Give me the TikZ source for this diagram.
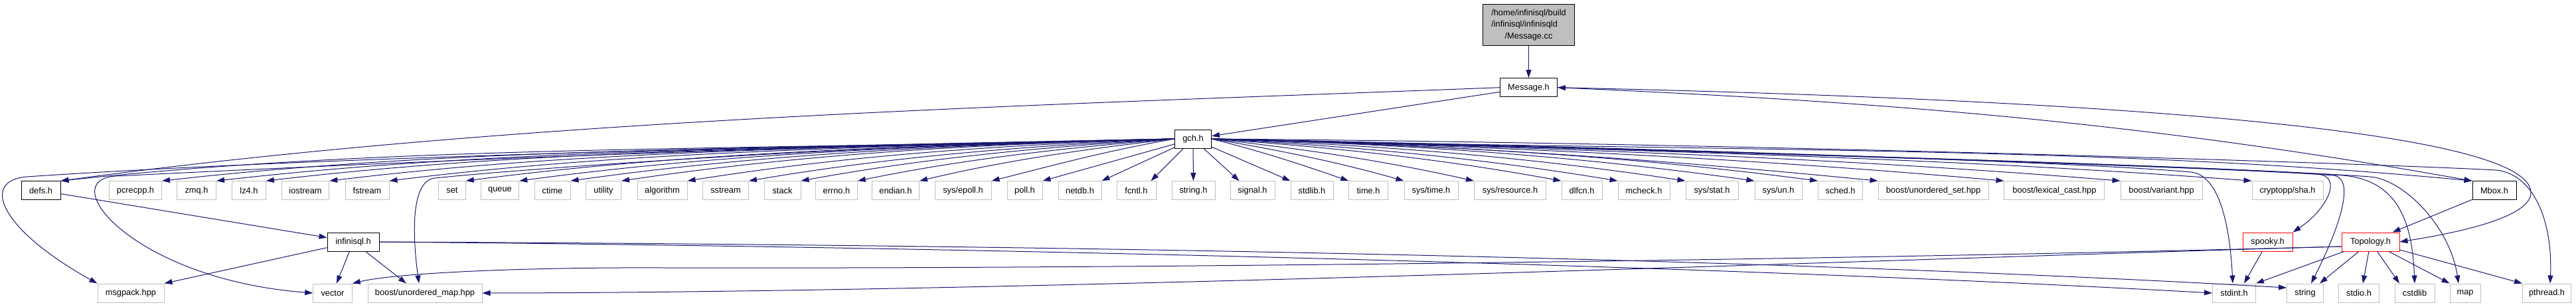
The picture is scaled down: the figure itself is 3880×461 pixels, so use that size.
\documentclass[tikz,border=0pt]{standalone}
\usepackage{fontspec}
\setmainfont{Liberation Sans}
\usetikzlibrary{arrows.meta,calc}
\definecolor{edgeblue}{HTML}{191970}
\definecolor{greyline}{HTML}{BFBFBF}
\definecolor{rootfill}{HTML}{BFBFBF}
\begin{document}
\begin{tikzpicture}[x=1pt,y=-1pt,
  incl/.style={rectangle, draw=greyline, fill=white, line width=1pt, minimum height=28pt,
    inner sep=0pt, minimum width=#1, font=\fontsize{12.8}{15.4}\selectfont},
  docbox/.style={incl=#1, draw=black},
  redbox/.style={incl=#1, draw=red},
  edge/.style={draw=edgeblue, line width=1pt, -{Triangle[length=12pt,width=8pt]}},
  edgeboth/.style={draw=edgeblue, line width=1pt, {Triangle[length=12pt,width=8pt]}-{Triangle[length=12pt,width=8pt]}},
]
\useasboundingbox (0,0) rectangle (3880,461);

% top
\node[docbox=138, minimum height=62pt, fill=rootfill, font=\fontsize{12.8}{17.5}\selectfont] (msgcc) at (2302.5,37)
  {\begin{tabular}{@{}l@{}}/home/infinisql/build\\/infinisql/infinisqld\\\multicolumn{1}{@{}c@{}}{/Message.cc}\end{tabular}};
\node[docbox=86] (msgh) at (2302.5,131.7) {Message.h};
\node[docbox=55] (gch) at (1797,209) {gch.h};

% row 1
\def\ra{286.7}
\node[docbox=59] (defs) at (61.5,\ra) {defs.h};
\node[incl=79] (pcrecpp) at (204,\ra) {pcrecpp.h};
\node[incl=59] (zmq) at (296,\ra) {zmq.h};
\node[incl=50.5] (lz4) at (375,\ra) {lz4.h};
\node[incl=71.5] (iostream) at (460,\ra) {iostream};
\node[incl=66] (fstream) at (553,\ra) {fstream};
\node[incl=40.5] (set) at (681,\ra) {set};
\node[incl=57.5] (queue) at (753,\ra) {queue};
\node[incl=54] (ctime) at (832,\ra) {ctime};
\node[incl=53] (utility) at (909,\ra) {utility};
\node[incl=75] (algorithm) at (997.5,\ra) {algorithm};
\node[incl=69] (sstream) at (1093,\ra) {sstream};
\node[incl=55] (stack) at (1178.5,\ra) {stack};
\node[incl=62.5] (errno) at (1260,\ra) {errno.h};
\node[incl=71] (endian) at (1349,\ra) {endian.h};
\node[incl=85] (epoll) at (1450.5,\ra) {sys/epoll.h};
\node[incl=53] (poll) at (1543.5,\ra) {poll.h};
\node[incl=65] (netdb) at (1626.5,\ra) {netdb.h};
\node[incl=59] (fcntl) at (1711.5,\ra) {fcntl.h};
\node[incl=65] (stringh) at (1797.5,\ra) {string.h};
\node[incl=67] (signal) at (1886.5,\ra) {signal.h};
\node[incl=64] (stdlib) at (1976,\ra) {stdlib.h};
\node[incl=58.5] (timeh) at (2061,\ra) {time.h};
\node[incl=81] (systime) at (2155.5,\ra) {sys/time.h};
\node[incl=108] (resource) at (2274.5,\ra) {sys/resource.h};
\node[incl=61] (dlfcn) at (2382.5,\ra) {dlfcn.h};
\node[incl=78] (mcheck) at (2476,\ra) {mcheck.h};
\node[incl=79] (stat) at (2578.5,\ra) {sys/stat.h};
\node[incl=71] (un) at (2678.5,\ra) {sys/un.h};
\node[incl=67] (sched) at (2772,\ra) {sched.h};
\node[incl=166] (uset) at (2912,\ra) {boost/unordered\_set.hpp};
\node[incl=151] (lexical) at (3094.4,\ra) {boost/lexical\_cast.hpp};
\node[incl=123] (variant) at (3255.5,\ra) {boost/variant.hpp};
\node[incl=107] (sha) at (3445.5,\ra) {cryptopp/sha.h};
\node[docbox=66] (mbox) at (3757,\ra) {Mbox.h};

% row 2
\node[docbox=78] (infinisql) at (532,364) {infinisql.h};
\node[redbox=75] (spooky) at (3415.5,364) {spooky.h};
\node[redbox=87] (topology) at (3570.5,364) {Topology.h};

% row 3
\def\rc{441}
\node[incl=100] (msgpack) at (197,\rc) {msgpack.hpp};
\node[incl=58.6] (vector) at (501,\rc) {vector};
\node[incl=172] (umap) at (640,\rc) {boost/unordered\_map.hpp};
\node[incl=65] (stdint) at (3365,\rc) {stdint.h};
\node[incl=55] (string) at (3472,\rc) {string};
\node[incl=61] (stdio) at (3553,\rc) {stdio.h};
\node[incl=60] (cstdlib) at (3637,\rc) {cstdlib};
\node[incl=46] (map) at (3713,\rc) {map};
\node[incl=73] (pthread) at (3836,\rc) {pthread.h};

% edges from the root and Message.h
\draw[edge] (msgcc) -- (msgh);
\draw[edge] (msgh) -- (gch);
\draw[edge] (msgh.west) .. controls +(-700,27) and +(694,-94) .. (defs.north east);
\draw[edgeboth] (msgh.east) .. controls +(500,22) and +(-494,-88) .. (mbox.north west);
\draw[edge] (msgh.east) .. controls (2946,145) and (3812,180) .. (3812,290)
   .. controls (3812,330) and (3684,353) .. (topology.east);

% gch.h fan to the left
\foreach \t/\a/\c/\b/\d in {defs/671/17.6/503.5/54, pcrecpp/610/16/458/51.4,
  zmq/578/15.1/433/49.3, lz4/548/14.3/410.7/48.3, iostream/510/13.3/382/46.2,
  fstream/473/12.4/355/44.2, set/427/11.2/320/41.6, queue/395/10.3/296/40,
  ctime/364/9.5/273/38.4, utility/334/8.7/250/37, algorithm/294/10/220/34.9,
  sstream/257/12/192.6/32.9, stack/225/13.6/169/31, errno/191/15.4/143.4/29.4,
  endian/154/17.3/115.5/27.5, epoll/110.6/19.5/83/20.7}
  \draw[edge] (gch.west) .. controls +(-\a,\c) and +(\b,-\d) .. (\t.north east);

% gch.h fan to the right
\foreach \t/\a/\c/\b/\d in {timeh/83/20.8/62/21.4, systime/116/19.2/87/24.8,
  resource/158/16.9/119/26.6, dlfcn/211/14.4/158/29, mcheck/245/12.4/184/30.4,
  stat/286/10.5/214/32.4, un/327/8.6/245.5/34.3, sched/366/9.6/274/36.1,
  uset/402/10.5/301/29.5, lexical/478/12.5/358/31.7, variant/548/14.4/411/33.8,
  sha/627/16.4/470/35.4, mbox/760/19.9/570/54}
  \draw[edge] (gch.east) .. controls +(\a,\c) and +(-\b,-\d) .. (\t.north west);

% gch.h straight edges
\draw[edge] (gch) -- (poll.north east);
\draw[edge] (gch) -- (netdb.north east);
\draw[edge] (gch) -- ($(fcntl.north east)+(-8,0)$);
\draw[edge] (gch) -- (stringh);
\draw[edge] (gch) -- ($(signal.north west)+(14,0)$);
\draw[edge] (gch) -- (stdlib.north west);

% gch.h long edges to the bottom row
\draw[edge] (gch.west) .. controls (1069.5,222) and (440,239) .. (40,266)
   .. controls (-30,272) and (0,345) .. (msgpack.north west);
\draw[edge] (gch.west) .. controls (1100,222) and (575,245) .. (175,265)
   .. controls (80,270) and (200,420) .. (vector.west);
\draw[edge] (gch.west) .. controls (1300,217) and (800,253) .. (655,268)
   .. controls (617,272) and (622,360) .. ($(umap.north)+(-9,0)$);
\draw[edge] (gch.east) .. controls (2500,222) and (3150,245) .. (3300,259)
   .. controls (3340,263) and (3358,330) .. ($(stdint.north)+(-2,0)$);
\draw[edge] (gch.east) .. controls (2400,222) and (3300,248) .. (3490,262)
   .. controls (3530,265) and (3505,315) .. (spooky.north east);
\draw[edge] (gch.east) .. controls (2400,222) and (3330,250) .. (3515,264)
   .. controls (3545,268) and (3530,330) .. ($(string.north)+(9,0)$);
\draw[edge] (gch.east) .. controls (2400,222) and (3350,250) .. (3530,264)
   .. controls (3610,272) and (3633,330) .. (cstdlib.north);
\draw[edge] (gch.east) .. controls (2400,222) and (3380,252) .. (3570,266)
   .. controls (3620,270) and (3690,340) .. ($(map.north)+(-10,0)$);
\draw[edge] (gch.east) .. controls (2600,215) and (3550,245) .. (3760,256)
   .. controls (3815,262) and (3845,330) .. ($(pthread.north)+(5,0)$);

% defs.h and infinisql.h
\draw[edge] (defs) -- (infinisql);
\draw[edge] (infinisql) -- (msgpack.north east);
\draw[edge] (infinisql) -- ($(vector.north)+(6,0)$);
\draw[edge] (infinisql) -- ($(umap.north)+(-28,0)$);
\draw[edge] (infinisql.east) .. controls (1500,368) and (2600,385) .. ($(string.west)+(0,-8)$);
\draw[edge] (infinisql.east) .. controls (1500,372) and (2600,400) .. (stdint.west);

% Mbox.h, spooky.h, Topology.h
\draw[edge] (mbox) -- ($(topology.north east)+(-11,0)$);
\draw[edge] (spooky) -- ($(stdint.north)+(15,0)$);
\draw[edge] (topology) -- (stdint.north east);
\draw[edge] (topology) -- ($(string.north)+(22,0)$);
\draw[edge] (topology) -- ($(stdio.north)+(6,0)$);
\draw[edge] (topology) -- ($(cstdlib.north)+(-23,0)$);
\draw[edge] (topology) -- (map.north west);
\draw[edge] (topology) -- (pthread.north west);
\draw[edge] ($(topology.west)+(0,7)$) .. controls (2900,388) and (1800,405) .. (1000,403)
   .. controls (800,402) and (600,410) .. (vector.north east);
\draw[edge] ($(topology.west)+(0,7)$) .. controls (2900,388) and (1600,440) .. (umap.east);
\end{tikzpicture}
\end{document}
